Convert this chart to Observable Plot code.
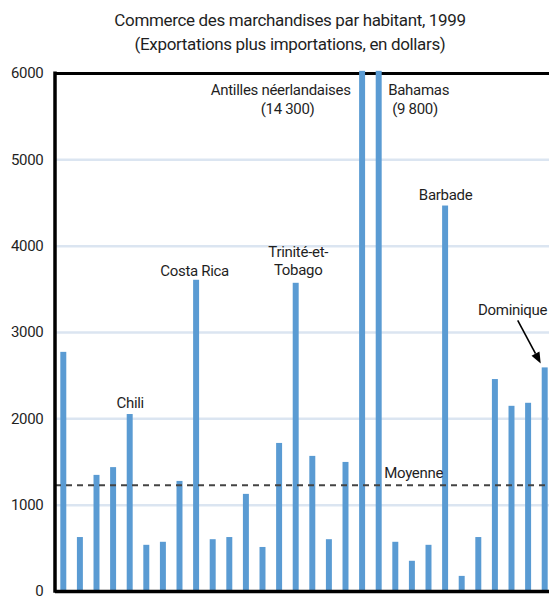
<!DOCTYPE html>
<html>
<head>
<meta charset="utf-8">
<script src="https://cdn.jsdelivr.net/npm/d3@7"></script>
<script src="https://cdn.jsdelivr.net/npm/@observablehq/plot@0.6"></script>
<style>
  body { margin: 0; background: #fff; font-family: Roboto, "DejaVu Sans Condensed", sans-serif; color: #1f1f1f; }
  #title { height: 60px; box-sizing: border-box; padding-left: 31px; text-align: center; letter-spacing: -0.35px; }
  #title .t1 { font-size: 17px; line-height: 24px; padding-top: 8px; }
  #title .t2 { font-size: 17px; line-height: 24px; }
  #chart svg { display: block; }
</style>
</head>
<body>
<div id="title">
  <div class="t1">Commerce des marchandises par habitant, 1999</div>
  <div class="t2">(Exportations plus importations, en dollars)</div>
</div>
<div id="chart"></div>
<script>
// Categories (only the labelled ones are named in the source picture)
const countries = [
  "Pays 1", "Pays 2", "Pays 3", "Pays 4", "Chili", "Pays 6", "Pays 7", "Pays 8",
  "Costa Rica", "Pays 10", "Pays 11", "Pays 12", "Pays 13", "Pays 14",
  "Trinité-et-Tobago", "Pays 16", "Pays 17", "Pays 18",
  "Antilles néerlandaises", "Bahamas", "Pays 21", "Pays 22", "Pays 23",
  "Barbade", "Pays 25", "Pays 26", "Pays 27", "Pays 28", "Pays 29", "Dominique"
];
// Merchandise trade per capita, 1999 (exports + imports, dollars)
const tradePerCapita = [
  2770, 625, 1345, 1435, 2050, 535, 570, 1275,
  3605, 600, 625, 1125, 510, 1715,
  3570, 1565, 600, 1495,
  14300, 9800, 570, 350, 535,
  4465, 175, 625, 2455, 2145, 2180, 2590
];
const average = 1230;
const averageLabel = "Moyenne";
const yTicks = [0, 1000, 2000, 3000, 4000, 5000, 6000];
const gridTicks = [1000, 2000, 3000, 4000, 5000];
const yMax = 6000;

const data = countries.map((c, i) => ({country: c, value: tradePerCapita[i]}));
const byName = name => data.find(d => d.country === name);
const shown = d => Math.min(d.value, yMax);

const fontFamily = 'Roboto, "DejaVu Sans Condensed", sans-serif';
const textColor = "#1f1f1f";
const textStyle = {fill: textColor, fontSize: 15, fontFamily, letterSpacing: "-0.3px"};

function note(name, text, opts) {
  const d = byName(name);
  return Plot.text([d], {
    x: "country", y: shown, text: () => text,
    lineAnchor: "middle", lineHeight: 1.22,
    ...textStyle,
    ...opts
  });
}

const chart = Plot.plot({
  width: 549,
  height: 536,
  marginTop: 13,
  marginBottom: 5,
  marginLeft: 55,
  marginRight: 0,
  style: {fontFamily, fontSize: "15px", color: textColor, background: "#fff", overflow: "visible", letterSpacing: "-0.3px"},
  x: {type: "band", domain: countries, range: [55, 553], paddingInner: 0.64, paddingOuter: 0.32, round: false, axis: null},
  y: {domain: [0, yMax], ticks: yTicks, tickSize: 0, tickPadding: 12, label: null, tickFormat: d => String(d)},
  marks: [
    Plot.ruleY(gridTicks, {stroke: "#dbe5f1", strokeWidth: 2.5}),
    Plot.ruleY([yMax], {stroke: "#000", strokeWidth: 3}),
    Plot.barY(data, {x: "country", y: d => Math.min(d.value, yMax + 25), fill: "#5a9bd3"}),
    Plot.ruleY([average], {stroke: "#444", strokeWidth: 2, strokeDasharray: "6,5"}),
    Plot.ruleY([0], {stroke: "#000", strokeWidth: 3.5}),
    note("Chili", "Chili", {dy: -12}),
    note("Costa Rica", "Costa Rica", {dy: -10, dx: -2}),
    note("Trinité-et-Tobago", "Trinité-et-\nTobago", {dy: -23, dx: 2}),
    note("Barbade", "Barbade", {dy: -12}),
    note("Antilles néerlandaises", "Antilles néerlandaises", {dy: 16, dx: -12, textAnchor: "end"}),
    note("Antilles néerlandaises", "(14 300)", {dy: 35, dx: -75}),
    note("Bahamas", "Bahamas", {dy: 16, dx: 9, textAnchor: "start"}),
    note("Bahamas", "(9 800)", {dy: 35, dx: 13, textAnchor: "start"}),
    note("Dominique", "Dominique", {dy: -59, dx: 2, textAnchor: "end"}),
    Plot.text([average], {
      x: () => countries[19], y: d => d, text: () => averageLabel,
      dx: 5, dy: -12, textAnchor: "start", lineAnchor: "middle",
      ...textStyle
    })
  ]
});
document.getElementById("chart").appendChild(chart);

// Extra drawing through the chart's own scales: left axis line and Dominique arrow
const xs = chart.scale("x");
const ys = chart.scale("y");
const svg = d3.select(chart);
const x0 = xs.range[0];
svg.append("line")
  .attr("x1", x0).attr("x2", x0)
  .attr("y1", ys.apply(yMax) - 1.5).attr("y2", ys.apply(0) + 1.75)
  .attr("stroke", "#000").attr("stroke-width", 3.5);

{
  const d = byName("Dominique");
  const bw = xs.bandwidth || 6;
  const cx = xs.apply(d.country) + bw / 2;
  const ty = ys.apply(d.value);
  const x1 = cx - 27, y1 = ty - 47, x2 = cx - 4, y2 = ty - 4;
  const ang = Math.atan2(y2 - y1, x2 - x1);
  const L = 11, W = 4.5;
  const bx = x2 - L * Math.cos(ang), by = y2 - L * Math.sin(ang);
  const px = -Math.sin(ang) * W, py = Math.cos(ang) * W;
  const g = svg.append("g");
  g.append("line").attr("x1", x1).attr("y1", y1).attr("x2", bx).attr("y2", by)
    .attr("stroke", "#000").attr("stroke-width", 1.6);
  g.append("path")
    .attr("d", `M${x2},${y2}L${bx + px},${by + py}L${bx - px},${by - py}Z`)
    .attr("fill", "#000");
}
</script>
</body>
</html>
